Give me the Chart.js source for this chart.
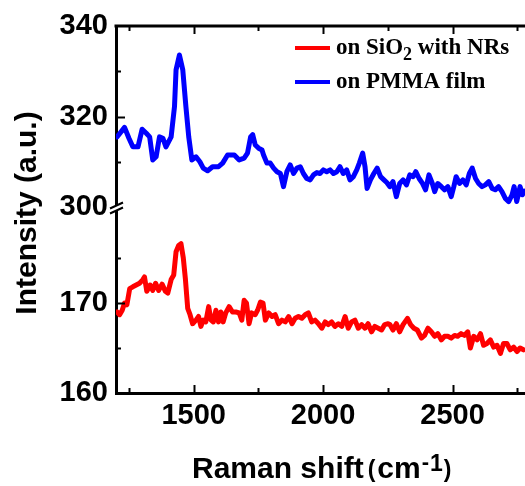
<!DOCTYPE html>
<html>
<head>
<meta charset="utf-8">
<script src="https://cdn.jsdelivr.net/npm/chart.js@4.4.0/dist/chart.umd.min.js"></script>
<style>
    html, body { margin: 0; padding: 0; background: #fff; }
    #contenedor { width: 525px; height: 486px; }
</style>
</head>
<body>
<div id="contenedor"><canvas id="espectro"></canvas></div>
<script>
// DATOS

var ramanPmma = [1204, 1233, 1250, 1265, 1285, 1301, 1317, 1330, 1342, 1355, 1368, 1381, 1393, 1413, 1426, 1432, 1445, 1458, 1470, 1481,
    1493, 1509, 1524, 1537, 1554, 1573, 1596, 1612, 1631, 1657, 1676, 1695, 1708, 1720, 1728, 1738, 1751, 1764, 1770, 1783,
    1796, 1809, 1822, 1835, 1847, 1860, 1873, 1886, 1899, 1912, 1924, 1937, 1950, 1963, 1976, 1988, 2001, 2014, 2027, 2040,
    2053, 2065, 2078, 2091, 2104, 2117, 2130, 2140, 2153, 2162, 2170, 2183, 2196, 2209, 2222, 2235, 2246, 2258, 2270, 2283,
    2296, 2309, 2322, 2335, 2348, 2358, 2371, 2384, 2396, 2409, 2422, 2431, 2443, 2457, 2469, 2482, 2495, 2505, 2514, 2527,
    2540, 2553, 2565, 2576, 2589, 2601, 2614, 2627, 2640, 2653, 2665, 2678, 2691, 2704, 2717, 2730, 2738, 2748, 2761, 2770, 2778];
var intensidadPmma = [315.5, 317.6, 315.2, 313.3, 313.3, 317.2, 316.3, 315.5, 310.4, 311.1, 315.5, 315.2, 313.3, 315.5, 322.2, 330.3, 333.6, 330.3, 322.2, 315.5,
    310.4, 311.1, 310.0, 308.6, 308.0, 308.9, 308.9, 309.7, 311.5, 311.5, 310.4, 310.8, 311.9, 315.5, 316.0, 313.7, 313.0, 312.6, 311.5, 309.7,
    309.7, 308.6, 307.8, 307.4, 304.5, 307.8, 309.3, 307.4, 308.6, 308.9, 307.4, 306.3, 306.0, 307.1, 307.6, 307.4, 308.2, 307.8, 308.2, 307.4,
    307.8, 308.9, 307.4, 308.2, 306.0, 306.7, 308.2, 309.7, 311.9, 308.9, 304.1, 306.0, 307.4, 308.6, 306.7, 306.0, 305.4, 304.5, 305.6, 302.3,
    305.2, 306.0, 304.9, 307.1, 306.7, 307.8, 306.3, 305.2, 303.8, 307.1, 305.2, 303.4, 305.2, 304.5, 303.8, 304.5, 302.3, 304.5, 306.7, 305.2,
    306.0, 304.9, 307.4, 308.6, 306.3, 305.2, 304.5, 304.9, 305.6, 304.1, 303.8, 304.5, 303.4, 301.9, 301.2, 302.7, 304.5, 301.2, 304.5, 302.7, 303.5];

var ramanSio2 = [1204, 1214, 1224, 1233, 1242, 1253, 1265, 1278, 1291, 1304, 1310, 1319, 1332, 1342, 1353, 1365, 1378, 1391, 1400, 1413,
    1423, 1432, 1442, 1451, 1460, 1468, 1477, 1486, 1496, 1509, 1519, 1528, 1537, 1547, 1558, 1567, 1576, 1586, 1596, 1605,
    1614, 1624, 1637, 1650, 1663, 1676, 1686, 1695, 1704, 1714, 1724, 1738, 1747, 1758, 1768, 1777, 1790, 1803, 1815, 1828,
    1841, 1854, 1867, 1880, 1892, 1905, 1918, 1931, 1943, 1956, 1969, 1982, 1995, 2008, 2020, 2033, 2046, 2059, 2072, 2085,
    2097, 2110, 2123, 2136, 2149, 2162, 2174, 2187, 2200, 2213, 2226, 2238, 2251, 2258, 2270, 2283, 2296, 2309, 2326, 2338,
    2351, 2364, 2380, 2392, 2405, 2418, 2431, 2443, 2457, 2469, 2482, 2495, 2508, 2520, 2533, 2546, 2559, 2569, 2582, 2595,
    2608, 2620, 2633, 2646, 2659, 2672, 2685, 2697, 2710, 2723, 2736, 2749, 2761, 2774];
var intensidadSio2 = [169.0, 168.7, 169.2, 170.0, 169.8, 171.6, 171.8, 172.0, 172.2, 172.6, 172.9, 171.3, 172.0, 171.4, 172.2, 171.4, 172.1, 171.3, 171.1, 172.6,
    173.1, 175.7, 176.4, 176.6, 175.0, 172.7, 169.4, 168.7, 167.7, 168.1, 168.5, 167.4, 168.1, 167.9, 169.6, 168.1, 167.9, 169.2, 167.9, 169.0,
    167.9, 168.9, 169.6, 169.0, 169.0, 168.9, 168.1, 170.3, 170.0, 167.7, 168.9, 168.7, 169.2, 170.1, 170.0, 168.1, 168.9, 168.5, 168.7, 167.7,
    168.1, 167.9, 168.5, 167.7, 168.3, 168.5, 168.3, 168.7, 168.9, 167.9, 168.1, 167.7, 167.2, 167.9, 167.6, 167.9, 167.4, 167.7, 167.4, 168.5,
    167.2, 167.9, 168.1, 167.2, 167.6, 167.2, 167.7, 166.8, 167.4, 167.2, 167.0, 167.6, 167.7, 167.6, 167.0, 167.7, 166.8, 167.6, 168.3, 167.6,
    167.2, 167.0, 166.1, 166.4, 167.2, 166.8, 166.3, 166.6, 165.9, 166.3, 166.3, 166.1, 166.4, 166.3, 166.6, 166.4, 166.8, 165.0, 166.3, 165.9,
    166.6, 165.3, 165.5, 165.9, 165.1, 165.3, 164.4, 165.5, 165.5, 164.8, 165.1, 164.6, 165.0, 164.8];

var etiquetasX = [1500, 2000, 2500];
var marcasX = [1250, 1500, 1750, 2000, 2250, 2500, 2750];
var etiquetasYArriba = [300, 320, 340];
var marcasYArriba = [310, 320, 330];
var etiquetasYAbajo = [160, 170];
var marcasYAbajo = [165, 170, 175];
var nombres = ["on SiO_2 with NRs", "on PMMA film"];
var colores = ["#ff0000", "#0000ff"];

/**
 * Une los arrays x / y en puntos para Chart.js
 */
function puntos(xs, ys) {
    return xs.map(function (v, i) { return { x: v, y: ys[i] }; });
}

function linea(ctx, x1, y1, x2, y2) {
    ctx.beginPath();
    ctx.moveTo(x1, y1);
    ctx.lineTo(x2, y2);
    ctx.stroke();
}

/**
 * Texto con subíndice marcado como "_2"
 */
function textoSubindice(ctx, texto, x, y, tam) {
    var partes = texto.split(/_(\d)/);
    partes.forEach(function (p, i) {
        if (i % 2 === 1) {
            ctx.font = "bold " + Math.round(tam * 0.8) + "px 'Liberation Serif', 'Times New Roman', serif";
            ctx.fillText(p, x, y + tam * 0.28);
        } else {
            ctx.font = "bold " + tam + "px 'Liberation Serif', 'Times New Roman', serif";
            ctx.fillText(p, x, y);
        }
        x += ctx.measureText(p).width;
    });
}

// Plugin para marcas interiores, ruptura de eje, títulos y leyenda
var decoracion = {
    id: "decoracion",
    afterDraw: function (chart) {
        var ctx = chart.ctx;
        var area = chart.chartArea;
        var ex = chart.scales.x;
        var yA = chart.scales.yArriba;
        var yB = chart.scales.yAbajo;
        ctx.save();
        ctx.strokeStyle = "#000";
        ctx.lineCap = "butt";

        // marco superior
        ctx.lineWidth = 3;
        linea(ctx, area.left - 1.5, area.top, area.right, area.top);

        // marcas
        ctx.lineWidth = 2;
        marcasX.forEach(function (v) {
            var px = Math.round(ex.getPixelForValue(v)) + 0.5;
            var l = v % 500 === 0 ? 8 : 5;
            linea(ctx, px, area.bottom, px, area.bottom - l);
            linea(ctx, px, area.top, px, area.top + l);
        });
        marcasYArriba.forEach(function (v) {
            var py = Math.round(yA.getPixelForValue(v)) + 0.5;
            var l = v % 20 === 0 ? 9 : 5;
            linea(ctx, area.left, py, area.left + l, py);
        });
        marcasYAbajo.forEach(function (v) {
            var py = Math.round(yB.getPixelForValue(v)) + 0.5;
            var l = v % 10 === 0 ? 9 : 5;
            linea(ctx, area.left, py, area.left + l, py);
        });

        // ruptura del eje
        var xr = area.left;
        var yr = yA.bottom;
        ctx.fillStyle = "#fff";
        ctx.beginPath();
        ctx.moveTo(xr - 5, yr + 1);
        ctx.lineTo(xr + 6, yr - 4);
        ctx.lineTo(xr + 6, yr + 1);
        ctx.lineTo(xr - 5, yr + 6);
        ctx.closePath();
        ctx.fill();
        ctx.lineWidth = 2;
        linea(ctx, xr - 6, yr + 1.5, xr + 7, yr - 4.5);
        linea(ctx, xr - 6, yr + 6.5, xr + 7, yr + 0.5);

        // título eje y
        ctx.fillStyle = "#000";
        ctx.save();
        ctx.translate(28, 213);
        ctx.rotate(-Math.PI / 2);
        ctx.textAlign = "center";
        ctx.textBaseline = "middle";
        ctx.font = "bold 30px 'Liberation Sans', Arial, sans-serif";
        ctx.fillText("Intensity (a.u.)", 0, 0);
        ctx.restore();

        // título eje x
        ctx.textAlign = "left";
        ctx.textBaseline = "alphabetic";
        var bx = 192, by = 478;
        var trozos = [
            { t: "Raman shift", f: 30, dy: 0, gap: 4 },
            { t: "(", f: 23, dy: -1, gap: 2 },
            { t: "cm", f: 30, dy: 0, gap: 1 },
            { t: "-", f: 22, dy: -9, gap: 1 },
            { t: "1", f: 23, dy: -7, gap: 1 },
            { t: ")", f: 23, dy: -1, gap: 0 }
        ];
        trozos.forEach(function (tr) {
            ctx.font = "bold " + tr.f + "px 'Liberation Sans', Arial, sans-serif";
            ctx.fillText(tr.t, bx, by + tr.dy);
            bx += ctx.measureText(tr.t).width + tr.gap;
        });

        // leyenda
        var ly = [48, 82];
        nombres.forEach(function (n, i) {
            ctx.strokeStyle = colores[i];
            ctx.lineWidth = 4;
            linea(ctx, 295, ly[i], 330, ly[i]);
            ctx.fillStyle = "#000";
            textoSubindice(ctx, n, 336, ly[i] + 6, 23);
        });
        ctx.restore();
    }
};

var fuenteTicks = { family: "'Liberation Sans', Arial, sans-serif", size: 29, weight: "bold" };

function sinComa(v) {
    return String(v);
}

function cargaEspectro() {
    var datos = {
        datasets: [
            {
                label: nombres[0],
                data: puntos(ramanSio2, intensidadSio2),
                borderColor: colores[0],
                yAxisID: "yAbajo",
            },
            {
                label: nombres[1],
                data: puntos(ramanPmma, intensidadPmma),
                borderColor: colores[1],
                yAxisID: "yArriba",
            },
        ],
    };
    new Chart(document.getElementById("espectro"), {
        type: "line",
        data: datos,
        options: {
            responsive: true,
            maintainAspectRatio: false,
            animation: false,
            layout: { padding: { top: 26, right: 0, left: 0, bottom: 0 } },
            elements: {
                point: { radius: 0 },
                line: { borderWidth: 5, tension: 0, borderJoinStyle: "round", borderCapStyle: "round" },
            },
            plugins: { legend: { display: false }, tooltip: { enabled: false } },
            scales: {
                x: {
                    type: "linear",
                    position: "bottom",
                    min: 1200,
                    max: 2780,
                    grid: { display: false, drawTicks: false },
                    border: { display: true, width: 3, color: "#000" },
                    ticks: { font: fuenteTicks, color: "#000", padding: 6, maxRotation: 0, callback: sinComa },
                    afterBuildTicks: function (s) { s.ticks = etiquetasX.map(function (v) { return { value: v }; }); },
                    afterFit: function (s) { s.height = 93; },
                },
                yAbajo: {
                    type: "linear",
                    position: "left",
                    stack: "intensidad",
                    stackWeight: 186,
                    weight: 0,
                    min: 160,
                    max: 180.67,
                    grid: { display: false, drawTicks: false },
                    border: { display: true, width: 3, color: "#000" },
                    ticks: { font: fuenteTicks, color: "#000", padding: 8, callback: sinComa },
                    afterBuildTicks: function (s) { s.ticks = etiquetasYAbajo.map(function (v) { return { value: v }; }); },
                    afterFit: function (s) { s.width = 116; },
                },
                yArriba: {
                    type: "linear",
                    position: "left",
                    stack: "intensidad",
                    stackWeight: 181,
                    weight: 1,
                    min: 300,
                    max: 340,
                    grid: { display: false, drawTicks: false },
                    border: { display: true, width: 3, color: "#000" },
                    ticks: { font: fuenteTicks, color: "#000", padding: 8, callback: sinComa },
                    afterBuildTicks: function (s) { s.ticks = etiquetasYArriba.map(function (v) { return { value: v }; }); },
                    afterFit: function (s) { s.width = 116; },
                },
            },
        },
        plugins: [decoracion],
    });
}

cargaEspectro();
</script>
</body>
</html>
